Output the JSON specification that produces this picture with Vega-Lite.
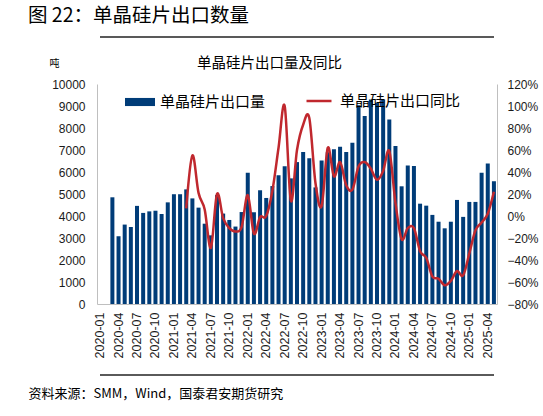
{
  "$schema": "https://vega.github.io/schema/vega-lite/v6.json",
  "width": 400,
  "height": 220,
  "autosize": {"type": "none"},
  "padding": {"left": 97, "top": 84, "right": 46, "bottom": 112},
  "background": "white",
  "config": {
    "view": {"stroke": null},
    "font": "Noto Sans CJK SC",
    "axis": {"labelFont": "Liberation Sans", "labelColor": "#1a1a1a", "titleFont": "Noto Sans CJK SC", "titleColor": "#000", "titleFontWeight": "normal", "grid": false}
  },
  "title": {
    "text": "图 22：单晶硅片出口数量",
    "anchor": "start",
    "frame": "group",
    "dx": -69,
    "offset": 10,
    "fontSize": 19.5,
    "fontWeight": "normal",
    "color": "#000",
    "font": "Noto Sans CJK SC"
  },
  "datasets": {
    "months": [
      {"month": "2020-03", "export": 4850},
      {"month": "2020-04", "export": 3080},
      {"month": "2020-05", "export": 3610},
      {"month": "2020-06", "export": 3500},
      {"month": "2020-07", "export": 4460},
      {"month": "2020-08", "export": 4140},
      {"month": "2020-09", "export": 4210},
      {"month": "2020-10", "export": 4240},
      {"month": "2020-11", "export": 4090},
      {"month": "2020-12", "export": 4620},
      {"month": "2021-01", "export": 4990},
      {"month": "2021-02", "export": 4990},
      {"month": "2021-03", "export": 5210, "yoy": 0.07},
      {"month": "2021-04", "export": 4800, "yoy": 0.55},
      {"month": "2021-05", "export": 4380, "yoy": 0.21},
      {"month": "2021-06", "export": 3650, "yoy": 0.06},
      {"month": "2021-07", "export": 3120, "yoy": -0.29},
      {"month": "2021-08", "export": 4950, "yoy": 0.20},
      {"month": "2021-09", "export": 4110, "yoy": -0.02},
      {"month": "2021-10", "export": 3820, "yoy": -0.11},
      {"month": "2021-11", "export": 3520, "yoy": -0.14},
      {"month": "2021-12", "export": 4180, "yoy": -0.10},
      {"month": "2022-01", "export": 5970, "yoy": 0.19},
      {"month": "2022-02", "export": 4170, "yoy": -0.16},
      {"month": "2022-03", "export": 5170, "yoy": -0.01},
      {"month": "2022-04", "export": 4820, "yoy": 0.00},
      {"month": "2022-05", "export": 5360, "yoy": 0.23},
      {"month": "2022-06", "export": 5850, "yoy": 0.62},
      {"month": "2022-07", "export": 6260, "yoy": 1.00},
      {"month": "2022-08", "export": 5710, "yoy": 0.14},
      {"month": "2022-09", "export": 6450, "yoy": 0.60},
      {"month": "2022-10", "export": 6910, "yoy": 0.83},
      {"month": "2022-11", "export": 6620, "yoy": 0.89},
      {"month": "2022-12", "export": 5300, "yoy": 0.30},
      {"month": "2023-01", "export": 6520, "yoy": 0.09},
      {"month": "2023-02", "export": 6900, "yoy": 0.62},
      {"month": "2023-03", "export": 7030, "yoy": 0.36},
      {"month": "2023-04", "export": 7150, "yoy": 0.49},
      {"month": "2023-05", "export": 6910, "yoy": 0.28},
      {"month": "2023-06", "export": 7330, "yoy": 0.24},
      {"month": "2023-07", "export": 9030, "yoy": 0.45},
      {"month": "2023-08", "export": 8550, "yoy": 0.49},
      {"month": "2023-09", "export": 9300, "yoy": 0.43},
      {"month": "2023-10", "export": 9150, "yoy": 0.33},
      {"month": "2023-11", "export": 9300, "yoy": 0.41},
      {"month": "2023-12", "export": 8390, "yoy": 0.59},
      {"month": "2024-01", "export": 7180, "yoy": 0.12},
      {"month": "2024-02", "export": 5350, "yoy": -0.21},
      {"month": "2024-03", "export": 6300, "yoy": -0.11},
      {"month": "2024-04", "export": 6270, "yoy": -0.11},
      {"month": "2024-05", "export": 4560, "yoy": -0.32},
      {"month": "2024-06", "export": 4470, "yoy": -0.38},
      {"month": "2024-07", "export": 4050, "yoy": -0.55},
      {"month": "2024-08", "export": 3740, "yoy": -0.57},
      {"month": "2024-09", "export": 3440, "yoy": -0.63},
      {"month": "2024-10", "export": 3740, "yoy": -0.59},
      {"month": "2024-11", "export": 4730, "yoy": -0.50},
      {"month": "2024-12", "export": 3960, "yoy": -0.54},
      {"month": "2025-01", "export": 4640, "yoy": -0.34},
      {"month": "2025-02", "export": 4640, "yoy": -0.13},
      {"month": "2025-03", "export": 5970, "yoy": -0.06},
      {"month": "2025-04", "export": 6390, "yoy": 0.02},
      {"month": "2025-05", "export": 5580, "yoy": 0.22}
    ]
  },
  "data": {"name": "months"},
  "layer": [
    {
      "mark": {"type": "bar"},
      "encoding": {
        "x": {
          "field": "month",
          "type": "ordinal",
          "scale": {
            "domain": ["2020-01","2020-02","2020-03","2020-04","2020-05","2020-06","2020-07","2020-08","2020-09","2020-10","2020-11","2020-12",
                       "2021-01","2021-02","2021-03","2021-04","2021-05","2021-06","2021-07","2021-08","2021-09","2021-10","2021-11","2021-12",
                       "2022-01","2022-02","2022-03","2022-04","2022-05","2022-06","2022-07","2022-08","2022-09","2022-10","2022-11","2022-12",
                       "2023-01","2023-02","2023-03","2023-04","2023-05","2023-06","2023-07","2023-08","2023-09","2023-10","2023-11","2023-12",
                       "2024-01","2024-02","2024-03","2024-04","2024-05","2024-06","2024-07","2024-08","2024-09","2024-10","2024-11","2024-12",
                       "2025-01","2025-02","2025-03","2025-04","2025-05"],
            "paddingInner": 0.35,
            "paddingOuter": 0.175
          },
          "axis": {
            "orient": "bottom",
            "title": null,
            "values": ["2020-01","2020-04","2020-07","2020-10","2021-01","2021-04","2021-07","2021-10","2022-01","2022-04","2022-07","2022-10","2023-01","2023-04","2023-07","2023-10","2024-01","2024-04","2024-07","2024-10","2025-01","2025-04"],
            "labelAngle": -90,
            "labelAlign": "right",
            "labelBaseline": "middle",
            "labelFontSize": 12.5,
            "labelPadding": 8,
            "ticks": false,
            "domain": true,
            "domainColor": "#bfbfbf",
            "domainWidth": 1
          }
        },
        "y": {
          "field": "export",
          "type": "quantitative",
          "scale": {"domain": [0, 10000], "nice": false},
          "axis": {
            "orient": "left",
            "values": [0,1000,2000,3000,4000,5000,6000,7000,8000,9000,10000],
            "format": "d",
            "labelFontSize": 12,
            "labelPadding": 12,
            "ticks": false,
            "domain": true,
            "domainColor": "#bfbfbf",
            "title": "吨",
            "titleAngle": 0,
            "titleX": -43,
            "titleY": -21,
            "titleAlign": "center",
            "titleBaseline": "middle",
            "titleFontSize": 10
          }
        },
        "fill": {
          "datum": "单晶硅片出口量",
          "scale": {"range": ["#003c78"]},
          "legend": {
            "orient": "none",
            "legendX": 28,
            "legendY": 3,
            "title": null,
            "padding": 0,
            "symbolType": "M-1,-0.27H1V0.27H-1Z",
            "symbolSize": 900,
            "symbolStrokeWidth": 0,
            "labelFont": "Noto Sans CJK SC",
            "labelFontSize": 15,
            "labelColor": "#000",
            "labelOffset": 5
          }
        }
      }
    },
    {
      "transform": [{"filter": "isValid(datum.yoy)"}],
      "mark": {"type": "line", "strokeWidth": 2.5, "interpolate": "cardinal"},
      "encoding": {
        "x": {
          "field": "month",
          "type": "ordinal",
          "scale": {
            "domain": ["2020-01","2020-02","2020-03","2020-04","2020-05","2020-06","2020-07","2020-08","2020-09","2020-10","2020-11","2020-12",
                       "2021-01","2021-02","2021-03","2021-04","2021-05","2021-06","2021-07","2021-08","2021-09","2021-10","2021-11","2021-12",
                       "2022-01","2022-02","2022-03","2022-04","2022-05","2022-06","2022-07","2022-08","2022-09","2022-10","2022-11","2022-12",
                       "2023-01","2023-02","2023-03","2023-04","2023-05","2023-06","2023-07","2023-08","2023-09","2023-10","2023-11","2023-12",
                       "2024-01","2024-02","2024-03","2024-04","2024-05","2024-06","2024-07","2024-08","2024-09","2024-10","2024-11","2024-12",
                       "2025-01","2025-02","2025-03","2025-04","2025-05"],
            "paddingInner": 0.35,
            "paddingOuter": 0.175
          },
          "axis": {
            "orient": "top",
            "offset": 47,
            "labels": false,
            "ticks": false,
            "domain": false,
            "title": "单晶硅片出口量及同比",
            "titleX": 172,
            "titleY": 26,
            "titleAlign": "center",
            "titleBaseline": "middle",
            "titleFontSize": 14.5
          }
        },
        "y": {
          "field": "yoy",
          "type": "quantitative",
          "scale": {"domain": [-0.8, 1.2], "nice": false, "zero": false},
          "axis": {
            "orient": "right",
            "values": [-0.8,-0.6,-0.4,-0.2,0,0.2,0.4,0.6,0.8,1.0,1.2],
            "format": ".0%",
            "labelFontSize": 12,
            "labelPadding": 10,
            "ticks": false,
            "domain": true,
            "domainColor": "#bfbfbf",
            "title": null
          }
        },
        "stroke": {
          "datum": "单晶硅片出口同比",
          "scale": {"range": ["#c0282e"]},
          "legend": {
            "orient": "none",
            "legendX": 208,
            "legendY": 3,
            "title": null,
            "padding": 0,
            "symbolType": "stroke",
            "symbolSize": 625,
            "symbolStrokeWidth": 2.5,
            "labelFont": "Noto Sans CJK SC",
            "labelFontSize": 15,
            "labelColor": "#000",
            "labelOffset": 7
          }
        }
      }
    },
    {
      "mark": {"type": "point", "opacity": 0},
      "encoding": {
        "x": {
          "field": "month",
          "type": "ordinal",
          "scale": {
            "domain": ["2020-01","2020-02","2020-03","2020-04","2020-05","2020-06","2020-07","2020-08","2020-09","2020-10","2020-11","2020-12",
                       "2021-01","2021-02","2021-03","2021-04","2021-05","2021-06","2021-07","2021-08","2021-09","2021-10","2021-11","2021-12",
                       "2022-01","2022-02","2022-03","2022-04","2022-05","2022-06","2022-07","2022-08","2022-09","2022-10","2022-11","2022-12",
                       "2023-01","2023-02","2023-03","2023-04","2023-05","2023-06","2023-07","2023-08","2023-09","2023-10","2023-11","2023-12",
                       "2024-01","2024-02","2024-03","2024-04","2024-05","2024-06","2024-07","2024-08","2024-09","2024-10","2024-11","2024-12",
                       "2025-01","2025-02","2025-03","2025-04","2025-05"],
            "paddingInner": 0.35,
            "paddingOuter": 0.175
          },
          "axis": {
            "orient": "bottom",
            "offset": 71,
            "labels": false,
            "ticks": false,
            "domain": false,
            "title": "资料来源：SMM，Wind，国泰君安期货研究",
            "titleX": -69,
            "titleY": 18,
            "titleAlign": "left",
            "titleBaseline": "middle",
            "titleAngle": 0,
            "titleFontSize": 13
          }
        }
      }
    },
    {
      "mark": {"type": "rule", "color": "#5a5a5a", "strokeWidth": 1.5, "clip": false},
      "encoding": {
        "x": {"datum": "2020-01", "type": "ordinal", "axis": null},
        "x2": {"datum": "2025-05"},
        "y": {"datum": 12136, "type": "quantitative", "scale": {"domain": [0, 10000], "nice": false}, "axis": null}
      }
    },
    {
      "mark": {"type": "rule", "color": "#5a5a5a", "strokeWidth": 1.2, "clip": false},
      "encoding": {
        "x": {"datum": "2020-01", "type": "ordinal", "axis": null},
        "x2": {"datum": "2025-05"},
        "y": {"datum": -3227, "type": "quantitative", "scale": {"domain": [0, 10000], "nice": false}, "axis": null}
      }
    }
  ],
  "resolve": {"scale": {"y": "independent"}, "axis": {"x": "independent", "y": "independent"}}
}
